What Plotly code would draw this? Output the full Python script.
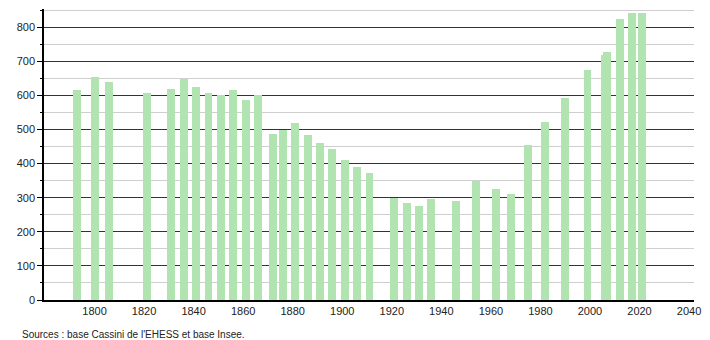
import plotly.graph_objects as go

years = [1793, 1800, 1806, 1821, 1831, 1836, 1841, 1846, 1851, 1856, 1861, 1866,
         1872, 1876, 1881, 1886, 1891, 1896, 1901, 1906, 1911, 1921, 1926, 1931,
         1936, 1946, 1954, 1962, 1968, 1975, 1982, 1990, 1999, 2006, 2007, 2012,
         2017, 2021]
population = [615, 653, 638, 606, 618, 648, 625, 606, 602, 615, 586, 602,
              486, 498, 520, 484, 461, 442, 409, 390, 373, 299, 285, 275,
              297, 290, 350, 324, 312, 453, 523, 592, 674, 719, 726, 824,
              842, 842]
y_ticks = [0, 100, 200, 300, 400, 500, 600, 700, 800]
x_ticks = [1800, 1820, 1840, 1860, 1880, 1900, 1920, 1940, 1960, 1980, 2000, 2020, 2040]
source_text = "Sources : base Cassini de l'EHESS et base Insee."

fig = go.Figure()
fig.add_trace(go.Bar(
    x=years, y=population, width=3.2,
    marker=dict(color="#b2e4b2", line=dict(width=0)),
    hoverinfo="x+y",
))

font = dict(family="Liberation Sans, Arial, sans-serif", size=11, color="#222")

fig.update_layout(
    width=710, height=340,
    margin=dict(l=44, r=10, t=9, b=40),
    paper_bgcolor="white", plot_bgcolor="white",
    showlegend=False,
    font=font,
    bargap=0,
    xaxis=dict(
        range=[1779.6, 2042], tickvals=x_ticks, ticktext=[str(t) for t in x_ticks],
        showgrid=False, zeroline=False, showline=True, linecolor="black", linewidth=1.5,
        ticks="", tickfont=dict(size=11, color="#222"),
    ),
    yaxis=dict(
        range=[0, 853], tickvals=y_ticks, showgrid=True, gridcolor="#333", gridwidth=1,
        zeroline=False, showline=True, linecolor="black", linewidth=1.5,
        ticks="outside", ticklen=5, tickcolor="black", tickwidth=1,
        tickfont=dict(size=11, color="#222"),
        minor=dict(dtick=50, tick0=0, showgrid=True, gridcolor="#cfcfcf", gridwidth=1,
                   ticks="outside", ticklen=2, tickcolor="black"),
    ),
    annotations=[dict(
        text=source_text, xref="paper", yref="paper", x=-0.037, y=-0.118,
        xanchor="left", yanchor="middle", showarrow=False,
        font=dict(family="Liberation Sans, Arial, sans-serif", size=10, color="#222"),
    )],
)

fig.write_html("out.html")
